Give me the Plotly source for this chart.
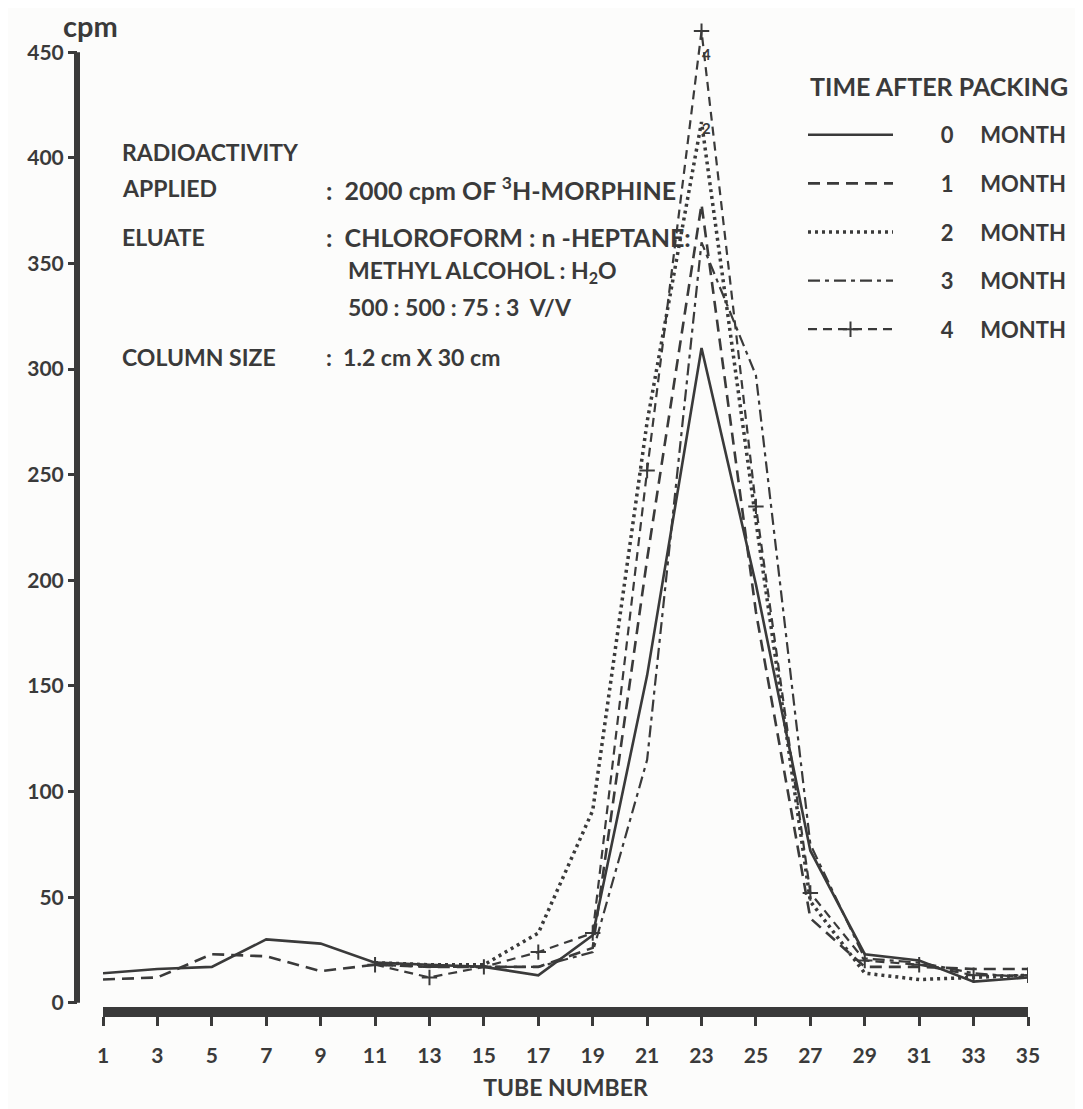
import plotly.graph_objects as go

# ---------------- data ----------------
tubes_all = [1, 3, 5, 7, 9, 11, 13, 15, 17, 19, 21, 23, 25, 27, 29, 31, 33, 35]
tubes_late = [11, 13, 15, 17, 19, 21, 23, 25, 27, 29, 31, 33, 35]

month0 = [14, 16, 17, 30, 28, 19, 18, 17, 13, 32, 155, 310, 198, 72, 23, 20, 10, 12]
month1 = [11, 12, 23, 22, 15, 18, 17, 17, 17, 26, 210, 378, 185, 40, 17, 17, 16, 16]
month2 = [19, 18, 18, 33, 91, 275, 417, 228, 48, 14, 11, 12, 13]
month3 = [18, 17, 17, 17, 24, 115, 360, 297, 75, 21, 19, 14, 12]
month4 = [18, 12, 17, 24, 33, 252, 460, 235, 52, 20, 18, 13, 13]

x_ticks = [1, 3, 5, 7, 9, 11, 13, 15, 17, 19, 21, 23, 25, 27, 29, 31, 33, 35]
y_ticks = [0, 50, 100, 150, 200, 250, 300, 350, 400, 450]

legend_names = ["0", "1", "2", "3", "4"]

# ---------------- style ----------------
INK = "#3a3a3a"
FONT = "Lato"
OFF = 8  # default page-body margin of the html page
W, H = 1083, 1109
ML, MR, MT, MB = 77 - OFF, 55 + OFF, 10 - OFF, 102 + OFF

def px(x):  # window pixel -> paper x
    return (x - OFF - ML) / (W - ML - MR)

def py(y):  # window pixel -> paper y
    return (H - MB - (y - OFF)) / (H - MT - MB)

nb = "\u00a0"

def lname(n):
    return nb * 8 + n + nb * 5 + "MONTH"

fig = go.Figure()
fig.add_trace(go.Scatter(x=tubes_all, y=month0, mode="lines", name=lname(legend_names[0]),
                         line=dict(color=INK, width=2.6), legendgroup="a"))
fig.add_trace(go.Scatter(x=tubes_all, y=month1, mode="lines", name=lname(legend_names[1]),
                         line=dict(color=INK, width=2.6, dash="12px,7px"), legendgroup="b"))
fig.add_trace(go.Scatter(x=tubes_late, y=month2, mode="lines", name=lname(legend_names[2]),
                         line=dict(color=INK, width=3.5, dash="3px,4px"), legendgroup="c"))
fig.add_trace(go.Scatter(x=tubes_late, y=month3, mode="lines", name=lname(legend_names[3]),
                         line=dict(color=INK, width=2.2, dash="12px,5px,4px,5px"), legendgroup="d"))
fig.add_trace(go.Scatter(x=tubes_late, y=month4, mode="lines+markers", name=lname(legend_names[4]),
                         line=dict(color=INK, width=2.2, dash="9px,6px"),
                         marker=dict(symbol="cross-thin", size=11, line=dict(color=INK, width=2)),
                         legendgroup="e"))

# y-axis spine from 0 to 450 (axis decoration)
fig.add_shape(type="line", xref="paper", yref="y", x0=0, x1=0, y0=0, y1=450,
              line=dict(color=INK, width=6))

left_font = dict(family=FONT, size=23, color=INK, weight="bold")
right_font = dict(family=FONT, size=25, color=INK, weight="bold")
texts = [
    ("RADIOACTIVITY", 120, 152, left_font),
    ("APPLIED", 120, 188, left_font),
    (":  2000 cpm OF <sup>3</sup>H-MORPHINE", 324, 188, right_font),
    ("ELUATE", 120, 237, left_font),
    (":  CHLOROFORM : n -HEPTANE:", 324, 237, right_font),
    ("METHYL ALCOHOL : H<sub>2</sub>O", 346, 272, left_font),
    ("500 : 500 : 75 : 3  V/V", 346, 307, left_font),
    ("COLUMN SIZE", 120, 357, left_font),
    (":  1.2 cm X 30 cm", 324, 357, left_font),
]
for t, x, y, f in texts:
    fig.add_annotation(text=t, x=px(x), y=py(y), xref="paper", yref="paper",
                       xanchor="left", yanchor="middle", showarrow=False, font=f)

fig.add_annotation(text="cpm", x=px(90), y=py(25), xref="paper", yref="paper",
                   xanchor="center", yanchor="middle", showarrow=False,
                   font=dict(family=FONT, size=29, color=INK, weight="bold"))

fig.add_annotation(text="TIME AFTER PACKING", x=px(808), y=py(86), xref="paper", yref="paper",
                   xanchor="left", yanchor="middle", showarrow=False,
                   font=dict(family=FONT, size=25, color=INK, weight="bold"))

# small hand-written curve labels near the peak
fig.add_annotation(text="4", x=23.2, y=449, xref="x", yref="y", showarrow=False,
                   font=dict(family=FONT, size=15, color=INK, weight="bold"))
fig.add_annotation(text="2", x=23.2, y=414, xref="x", yref="y", showarrow=False,
                   font=dict(family=FONT, size=15, color=INK, weight="bold"))

fig.update_layout(
    width=W, height=H,
    margin=dict(l=ML, r=MR, t=MT, b=MB),
    paper_bgcolor="#fcfcfb", plot_bgcolor="#fcfcfb",
    showlegend=True,
    legend=dict(
        x=px(803), y=py(114), xanchor="left", yanchor="top",
        bgcolor="rgba(0,0,0,0)",
        font=dict(family=FONT, size=22, color=INK, weight="bold"),
        itemwidth=85, tracegroupgap=17, traceorder="grouped",
    ),
    xaxis=dict(
        domain=[px(103), 1], range=[1, 35],
        tickvals=x_ticks, ticktext=[str(v) for v in x_ticks],
        showline=True, linecolor=INK, linewidth=10,
        ticks="outside", ticklen=9, tickwidth=3, tickcolor=INK,
        ticklabelstandoff=12,
        showgrid=False, zeroline=False,
        tickfont=dict(family=FONT, size=21, color=INK, weight="bold"),
        title=dict(text="TUBE NUMBER", font=dict(family=FONT, size=23, color=INK, weight="bold"), standoff=18),
    ),
    yaxis=dict(
        anchor="free", position=0, range=[-2, 470],
        tickvals=y_ticks, ticktext=[str(v) for v in y_ticks],
        showline=False, ticks="outside", ticklen=9, tickwidth=3, tickcolor=INK,
        showgrid=False, zeroline=False,
        tickfont=dict(family=FONT, size=21, color=INK, weight="bold"),
    ),
)

fig.write_html("out.html")
